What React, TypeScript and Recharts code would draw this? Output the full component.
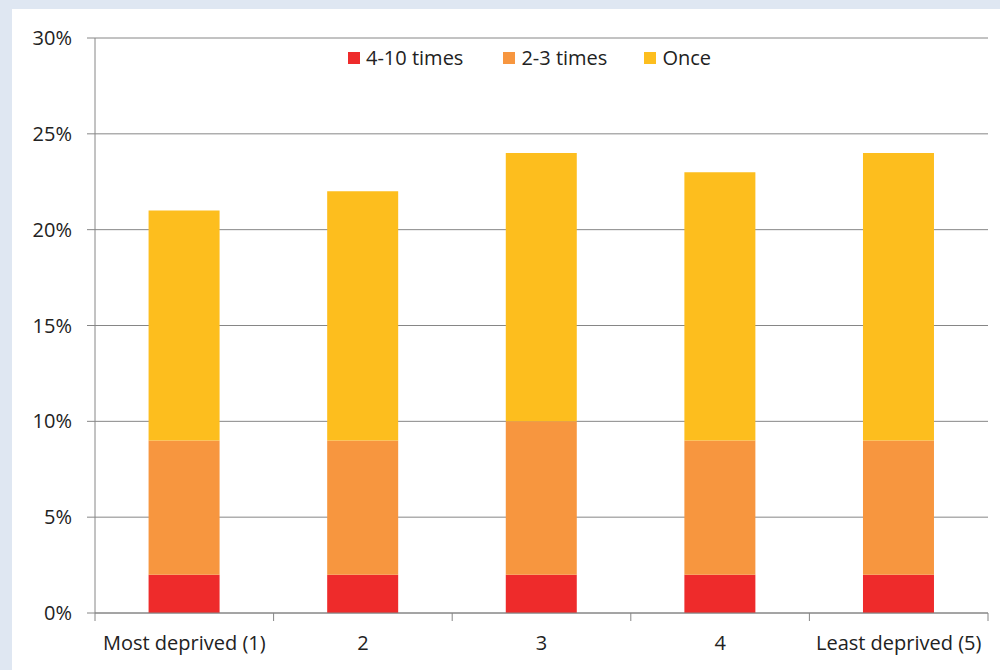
import { BarChart, Bar, XAxis, YAxis, CartesianGrid, Legend } from "recharts";

const categories = ["Most deprived (1)", "2", "3", "4", "Least deprived (5)"];
const fourToTen = [2, 2, 2, 2, 2];
const twoToThree = [7, 7, 8, 7, 7];
const once = [12, 13, 14, 14, 15];
const yTicks = [0, 5, 10, 15, 20, 25, 30];

const seriesNames = ["4-10 times", "2-3 times", "Once"];
const seriesColors = ["#EE2B2B", "#F7963F", "#FDBE1E"];

const data = categories.map((name, i) => ({
  name,
  a: fourToTen[i],
  b: twoToThree[i],
  c: once[i],
}));

const FONT = "'Open Sans', sans-serif";
const CHART_W = 1000;
const PLOT_LEFT = 95;
const PLOT_RIGHT = 988;
const BAND = (PLOT_RIGHT - PLOT_LEFT) / categories.length;

function XTick(props: any) {
  const { x, y, payload, index } = props;
  const last = index === categories.length - 1;
  return (
    <g>
      <line x1={x - BAND / 2} x2={x - BAND / 2} y1={y - 8} y2={y} stroke="#868686" />
      {last && <line x1={x + BAND / 2} x2={x + BAND / 2} y1={y - 8} y2={y} stroke="#868686" />}
      <text x={x} y={y + 29} textAnchor="middle" fontFamily={FONT} fontSize={20} fill="#222">
        {payload.value}
      </text>
    </g>
  );
}

function LegendBox() {
  return (
    <div style={{ display: "flex", fontFamily: FONT, fontSize: 20, color: "#222", whiteSpace: "nowrap" }}>
      {seriesNames.map((n, i) => (
        <div key={n} style={{ display: "flex", alignItems: "center", marginRight: i === 0 ? 40 : 37 }}>
          <span style={{ width: 12, height: 12, background: seriesColors[i], display: "inline-block", marginRight: 6 }} />
          <span>{n}</span>
        </div>
      ))}
    </div>
  );
}

export default function App() {
  return (
    <div style={{ position: "absolute", left: 0, top: 0, width: 1000, height: 670, background: "#DFE7F2" }}>
      <div style={{ position: "absolute", left: 12, top: 9, width: 988, height: 661, background: "#fff" }} />
      <div style={{ position: "absolute", left: 0, top: 0 }}>
        <BarChart
          width={CHART_W}
          height={670}
          data={data}
          margin={{ top: 38, right: CHART_W - PLOT_RIGHT, bottom: 0, left: 0 }}
          barCategoryGap="30%"
        >
          <CartesianGrid vertical={false} stroke="#868686" strokeWidth={1} />
          <XAxis
            dataKey="name"
            axisLine={{ stroke: "#868686" }}
            tickLine={false}
            tick={<XTick />}
            interval={0}
            height={57}
          />
          <YAxis
            width={PLOT_LEFT}
            domain={[0, 30]}
            ticks={yTicks}
            tickFormatter={(v) => `${v}%`}
            axisLine={{ stroke: "#868686" }}
            tickLine={{ stroke: "#868686" }}
            tickSize={8}
            tickMargin={15}
            tick={{ fontFamily: FONT, fontSize: 20, fill: "#222" }}
          />
          <Legend
            verticalAlign="middle"
            align="center"
            layout="horizontal"
            content={<LegendBox />}
            wrapperStyle={{ top: 44, left: 348, width: "auto" }}
          />
          <Bar dataKey="a" name={seriesNames[0]} stackId="s" fill={seriesColors[0]} isAnimationActive={false} />
          <Bar dataKey="b" name={seriesNames[1]} stackId="s" fill={seriesColors[1]} isAnimationActive={false} />
          <Bar dataKey="c" name={seriesNames[2]} stackId="s" fill={seriesColors[2]} isAnimationActive={false} />
        </BarChart>
      </div>
    </div>
  );
}
